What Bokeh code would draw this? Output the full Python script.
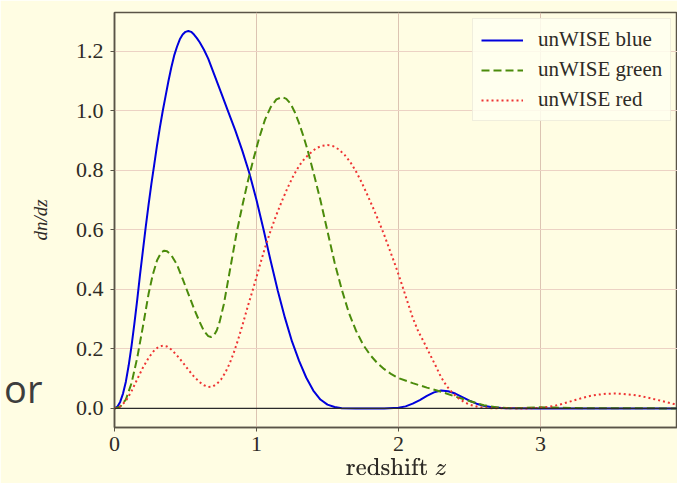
from bokeh.plotting import figure
from bokeh.models import (Range1d, FixedTicker, PrintfTickFormatter, Span, LinearAxis,
                          Legend, LegendItem)
from bokeh.embed import file_html
from bokeh.resources import INLINE

# ---- data ----
blue_z = [0.00, 0.02, 0.04, 0.06, 0.08, 0.10, 0.12, 0.14, 0.16, 0.18, 0.20, 0.22, 0.24,
          0.26, 0.28, 0.30, 0.32, 0.34, 0.36, 0.38, 0.40, 0.42, 0.44, 0.46, 0.48, 0.50,
          0.52, 0.54, 0.56, 0.58, 0.60, 0.63, 0.66, 0.70, 0.75, 0.80, 0.85, 0.90, 0.95,
          1.00, 1.05, 1.10, 1.15, 1.20, 1.25, 1.30, 1.35, 1.40, 1.45, 1.50, 1.55, 1.60,
          1.70, 1.90, 2.00, 2.05, 2.10, 2.15, 2.20, 2.25, 2.30, 2.35, 2.40, 2.45, 2.50,
          2.55, 2.60, 2.66, 2.75, 3.00, 4.00]
blue_n = [0.000, 0.006, 0.022, 0.050, 0.090, 0.145, 0.210, 0.285, 0.365, 0.450, 0.530,
          0.610, 0.685, 0.755, 0.820, 0.885, 0.945, 1.000, 1.050, 1.100, 1.145, 1.185,
          1.215, 1.240, 1.256, 1.265, 1.268, 1.265, 1.256, 1.244, 1.230, 1.205, 1.175,
          1.125, 1.062, 0.998, 0.935, 0.866, 0.790, 0.700, 0.600, 0.495, 0.395, 0.305,
          0.225, 0.160, 0.104, 0.060, 0.030, 0.013, 0.005, 0.001, 0.000, 0.000, 0.002,
          0.007, 0.016, 0.028, 0.042, 0.054, 0.060, 0.058, 0.050, 0.038, 0.026, 0.016,
          0.009, 0.004, 0.001, 0.000, 0.000]

green_z = [0.00, 0.04, 0.08, 0.12, 0.16, 0.20, 0.24, 0.27, 0.30, 0.33, 0.35, 0.37, 0.40,
           0.44, 0.48, 0.52, 0.56, 0.60, 0.63, 0.66, 0.68, 0.70, 0.72, 0.74, 0.77, 0.80,
           0.83, 0.86, 0.90, 0.94, 0.98, 1.02, 1.06, 1.10, 1.14, 1.18, 1.21, 1.24, 1.27,
           1.30, 1.33, 1.36, 1.40, 1.45, 1.50, 1.55, 1.60, 1.65, 1.70, 1.75, 1.80, 1.85,
           1.90, 1.95, 2.00, 2.10, 2.20, 2.30, 2.40, 2.50, 2.60, 2.70, 2.80, 2.90, 3.00,
           3.10, 3.30, 4.00]
green_n = [0.000, 0.006, 0.030, 0.085, 0.170, 0.275, 0.385, 0.450, 0.498, 0.525, 0.530,
           0.528, 0.515, 0.483, 0.435, 0.385, 0.335, 0.290, 0.260, 0.243, 0.240, 0.245,
           0.262, 0.290, 0.350, 0.430, 0.510, 0.590, 0.680, 0.765, 0.840, 0.910, 0.970,
           1.012, 1.038, 1.046, 1.040, 1.024, 0.995, 0.958, 0.915, 0.868, 0.795, 0.700,
           0.595, 0.490, 0.400, 0.322, 0.262, 0.215, 0.180, 0.153, 0.132, 0.115, 0.102,
           0.085, 0.070, 0.056, 0.040, 0.025, 0.011, 0.003, 0.000, 0.002, 0.004, 0.003,
           0.001, 0.000]

red_z = [0.00, 0.04, 0.08, 0.12, 0.16, 0.20, 0.24, 0.28, 0.31, 0.34, 0.37, 0.40, 0.44,
         0.48, 0.52, 0.56, 0.60, 0.63, 0.66, 0.69, 0.72, 0.75, 0.78, 0.81, 0.84, 0.87,
         0.90, 0.94, 0.98, 1.02, 1.06, 1.10, 1.14, 1.18, 1.22, 1.26, 1.30, 1.34, 1.38,
         1.42, 1.46, 1.50, 1.54, 1.58, 1.62, 1.66, 1.70, 1.74, 1.78, 1.82, 1.86, 1.90,
         1.94, 1.98, 2.02, 2.06, 2.10, 2.14, 2.18, 2.22, 2.26, 2.30, 2.34, 2.38, 2.42,
         2.46, 2.50, 2.56, 2.64, 2.90, 3.00, 3.05, 3.10, 3.15, 3.20, 3.25, 3.30, 3.35,
         3.40, 3.46, 3.52, 3.58, 3.64, 3.70, 3.76, 3.82, 3.88, 3.94, 4.00]
red_n = [0.000, 0.007, 0.025, 0.058, 0.098, 0.137, 0.170, 0.195, 0.207, 0.211, 0.208,
         0.198, 0.178, 0.155, 0.130, 0.107, 0.088, 0.078, 0.072, 0.073, 0.082, 0.097,
         0.120, 0.150, 0.187, 0.230, 0.278, 0.345, 0.408, 0.475, 0.540, 0.598, 0.650,
         0.698, 0.742, 0.782, 0.815, 0.840, 0.858, 0.874, 0.882, 0.885, 0.881, 0.870,
         0.852, 0.828, 0.797, 0.760, 0.718, 0.675, 0.630, 0.582, 0.530, 0.478, 0.422,
         0.363, 0.305, 0.258, 0.222, 0.183, 0.145, 0.105, 0.075, 0.052, 0.035, 0.022,
         0.013, 0.005, 0.001, 0.000, 0.002, 0.005, 0.009, 0.015, 0.022, 0.029, 0.036,
         0.042, 0.046, 0.049, 0.050, 0.049, 0.046, 0.042, 0.036, 0.029, 0.022, 0.015,
         0.010]

series_names = ["unWISE blue", "unWISE green", "unWISE red"]
x_ticks = [0, 1, 2, 3]
y_ticks = [0.0, 0.2, 0.4, 0.6, 0.8, 1.0, 1.2]
x_label = r"$$\text{redshift}\ z$$"
y_label = "dn/dz"
slide_text = "or"
slide_text_at = 0.07

BG = "#fffde3"
SERIF = "Liberation Serif"
TXT = "#2e2b26"
SPINE = "#5a5447"

p = figure(width=677, height=483, output_backend="svg", toolbar_location=None,
           x_range=Range1d(0, 3.965), y_range=Range1d(-0.064, 1.33),
           min_border_left=114, min_border_right=0, min_border_top=12,
           min_border_bottom=56)
p.background_fill_color = BG
p.border_fill_color = BG
p.outline_line_color = SPINE
p.outline_line_width = 1.5

for ax in (p.xaxis, p.yaxis):
    ax.axis_line_color = SPINE
    ax.axis_line_width = 1.5
    ax.major_tick_line_color = SPINE
    ax.major_tick_out = 4
    ax.major_tick_in = 0
    ax.minor_tick_line_color = None
    ax.major_label_text_font = SERIF
    ax.major_label_text_font_size = "22px"
    ax.major_label_text_color = TXT

p.xaxis.ticker = FixedTicker(ticks=x_ticks)
p.xaxis.formatter = PrintfTickFormatter(format="%d")
p.xaxis.major_label_standoff = 5
p.xaxis.axis_label = x_label
p.xaxis.axis_label_text_font_size = "21px"
p.xaxis.axis_label_text_color = TXT
p.xaxis.axis_label_standoff = 4

p.yaxis.ticker = FixedTicker(ticks=y_ticks)
p.yaxis.formatter = PrintfTickFormatter(format="%.1f")
p.yaxis.major_label_standoff = 7
p.yaxis.axis_label = y_label
p.yaxis.axis_label_text_font = SERIF
p.yaxis.axis_label_text_font_style = "italic"
p.yaxis.axis_label_text_font_size = "19px"
p.yaxis.axis_label_text_color = TXT
p.yaxis.axis_label_standoff = 22

# fragment of the slide's text at the left edge, drawn as the only tick label of a bare axis
side = LinearAxis(ticker=FixedTicker(ticks=[slide_text_at]),
                  major_label_overrides={slide_text_at: slide_text},
                  axis_line_color=None, major_tick_line_color=None,
                  minor_tick_line_color=None, major_tick_out=0, major_tick_in=0,
                  major_label_standoff=-16, major_label_text_font="Open Sans",
                  major_label_text_font_size="38px", major_label_text_color="#3d3d3d")
p.add_layout(side, "left")

p.xgrid.grid_line_color = "#dcc4b2"
p.ygrid.grid_line_color = "#ecd2c4"
p.xgrid.grid_line_width = 1
p.ygrid.grid_line_width = 1

p.add_layout(Span(location=0, dimension="width", line_color="#2a2a2a", line_width=1.2))

r_blue = p.line(blue_z, blue_n, line_color="#0000dd", line_width=2)
r_green = p.line(green_z, green_n, line_color="#4b8b0b", line_width=2, line_dash="8 4")
r_red = p.line(red_z, red_n, line_color="#ee3333", line_width=2, line_dash="2 3")

legend = Legend(items=[LegendItem(label=series_names[0], renderers=[r_blue]),
                       LegendItem(label=series_names[1], renderers=[r_green]),
                       LegendItem(label=series_names[2], renderers=[r_red])],
                location=(358, 306))
legend.label_text_font = SERIF
legend.label_text_font_size = "21px"
legend.label_text_color = TXT
legend.glyph_width = 42
legend.glyph_height = 20
legend.label_height = 20
legend.label_standoff = 15
legend.spacing = 5
legend.padding = 8
legend.margin = 0
legend.border_line_color = "#e2ddcc"
legend.background_fill_color = "#fffff0"
legend.background_fill_alpha = 0.85
p.add_layout(legend)

open("out.html", "w").write(file_html(p, INLINE))
